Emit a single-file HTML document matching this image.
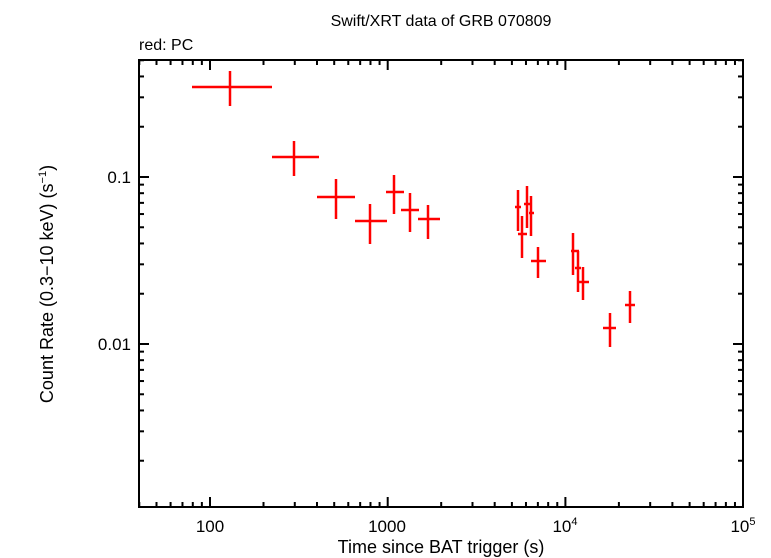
<!DOCTYPE html><html><head><style>body{margin:0;background:#fff}svg{display:block}text{font-family:"Liberation Sans",sans-serif;fill:#000}</style></head><body>
<svg id="s" width="771" height="558" xmlns="http://www.w3.org/2000/svg">
<text x="441" y="26" font-size="16" text-anchor="middle">Swift/XRT data of GRB 070809</text>
<text x="139" y="50" font-size="16">red: PC</text>
<text x="441" y="553" font-size="18" text-anchor="middle">Time since BAT trigger (s)</text>
<text transform="translate(53,284) rotate(-90)" font-size="18" text-anchor="middle">Count Rate (0.3−10 keV) (s<tspan font-size="11" dy="-7">−1</tspan><tspan dy="7">)</tspan></text>
<text x="210" y="532" font-size="17" text-anchor="middle">100</text>
<text x="387" y="532" font-size="17" text-anchor="middle">1000</text>
<text x="565" y="532" font-size="17" text-anchor="middle">10<tspan font-size="11" dy="-7">4</tspan></text>
<text x="743" y="532" font-size="17" text-anchor="middle">10<tspan font-size="11" dy="-7">5</tspan></text>
<text x="131" y="183" font-size="17" text-anchor="end">0.1</text>
<text x="131" y="350" font-size="17" text-anchor="end">0.01</text>
<g id="ax" stroke="#000" stroke-width="2" fill="none"><rect x="139" y="60" width="604" height="447"/></g>
<g id="d" stroke="#f00" stroke-width="2.5"></g>
</svg>
<script>
var ax=document.getElementById('ax'),d=document.getElementById('d'),ns='http://www.w3.org/2000/svg';
function L(g,a,b,c,e){var l=document.createElementNS(ns,'line');l.setAttribute('x1',a);l.setAttribute('y1',b);l.setAttribute('x2',c);l.setAttribute('y2',e);g.appendChild(l);}
function X(v){return 210+177.7*(Math.log10(v)-2);}
function Y(v){return 177-167*(Math.log10(v)+1);}
for(var e=1;e<5;e++)for(var m=1;m<10;m++){var x=X(m*Math.pow(10,e));if(x<139||x>743)continue;var t=m==1?10:5;L(ax,x,507,x,507-t);L(ax,x,60,x,60+t);}
for(var e=-3;e<0;e++)for(var m=1;m<10;m++){var y=Y(m*Math.pow(10,e));if(y<60||y>507)continue;var t=m==1?10:5;L(ax,139,y,139+t,y);L(ax,743,y,743-t,y);}
var p=[[192,272,230,87,71,106],[272,319,294,157,141,176],[317,355,336,197,179,219],[355,387,370,221,204,244],[386,404,394,192,175,214],[401,419,410,210,193,232],[418,440,428,219,205,239],[515,521,518,207,190,231],[518,527,522,234,216,258],[524,531,527,204,186,228],[529,534,531,213,196,236],[531,546,538,261,247,278],[571,579,573,251,233,275],[575,581,578,268,251,292],[579,589,583,282,267,300],[603,616,610,328,313,347],[625,635,630,305,291,323]];
p.forEach(function(q){L(d,q[0],q[3],q[1],q[3]);L(d,q[2],q[4],q[2],q[5]);});
</script></body></html>
